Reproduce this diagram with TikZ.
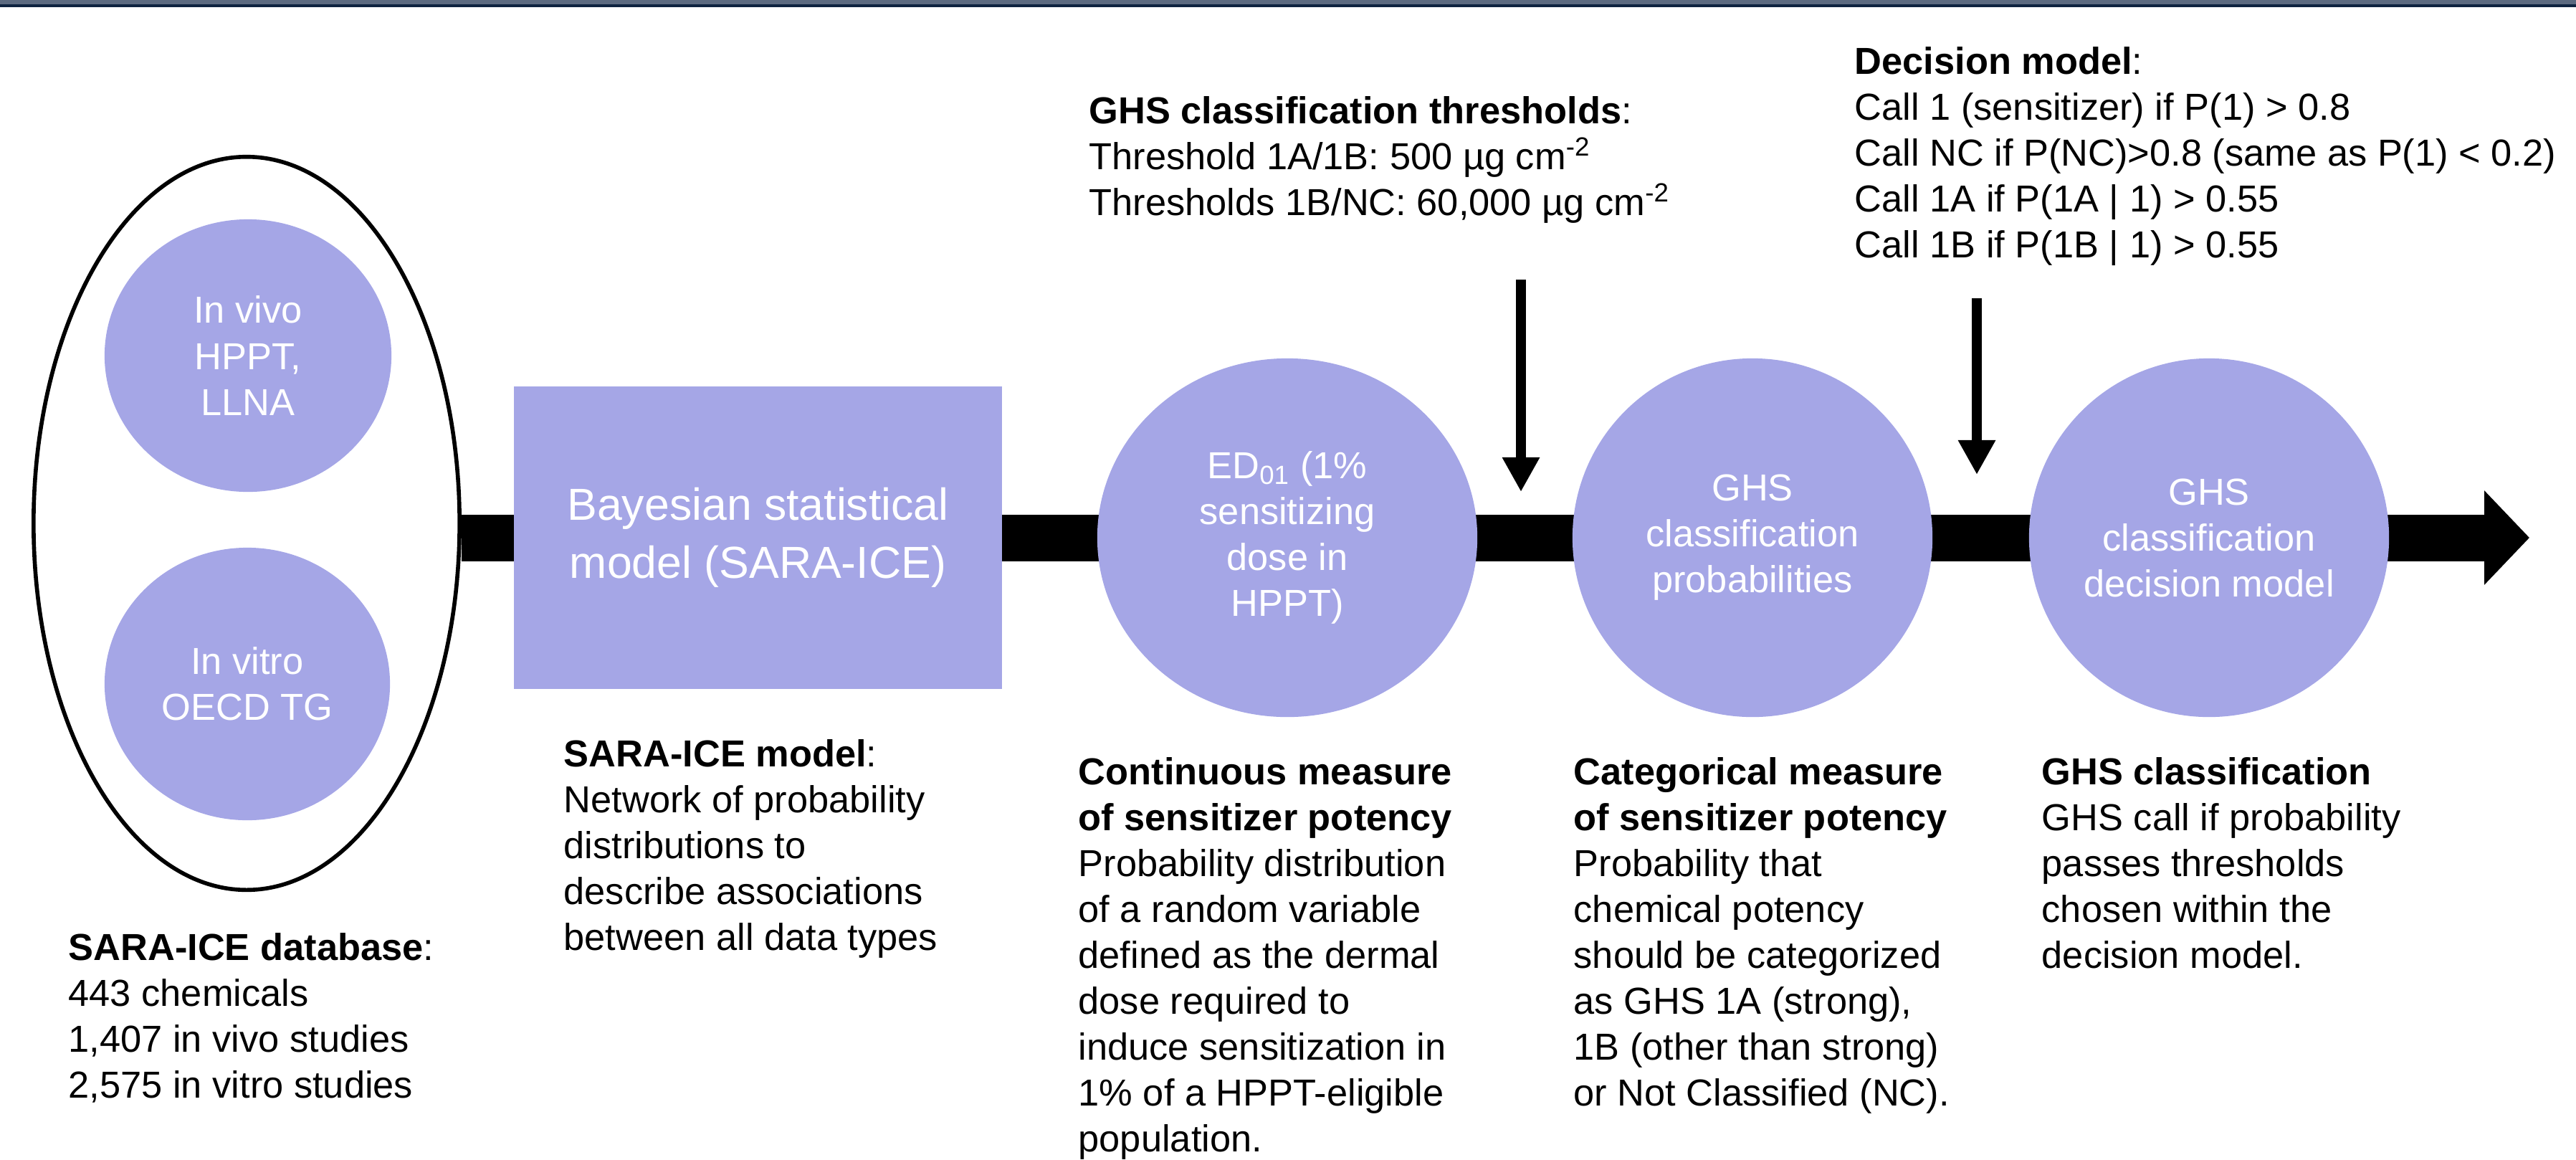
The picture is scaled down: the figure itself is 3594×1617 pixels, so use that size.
\documentclass[tikz,border=0pt]{standalone}
\usepackage{fontspec}
\setmainfont{Liberation Sans}
\usetikzlibrary{shapes.geometric,arrows.meta,backgrounds}
\definecolor{blobfill}{RGB}{165,166,230}
\definecolor{bandgray}{RGB}{92,106,128}
\definecolor{bandnavy}{RGB}{14,35,64}
\newcommand{\slidefont}{\fontsize{14.9}{18.2}\selectfont}
\newcommand{\bigslidefont}{\fontsize{17.8}{23}\selectfont}

\begin{document}
\begin{tikzpicture}[x=0.01cm, y=-0.01cm,
    blob/.style={ellipse, fill=blobfill, inner sep=0pt, outer sep=0pt, text=white, align=center, font=\slidefont},
    txt/.style={anchor=base west, align=left, inner sep=0pt, font=\slidefont},
    bar/.style={line width=0.65cm, -{Triangle[length=0.63cm, width=1.28cm]}},
    feed/.style={line width=0.14cm, -{Triangle[length=0.48cm, width=0.49cm]}}]
      \useasboundingbox (0,0) rectangle (3594,1617);
      % header band
      \fill[bandgray] (0,0) rectangle (3594,6);
      \fill[bandnavy] (0,6) rectangle (3594,10);
      % data sources
      \node (db) at (344,730) [ellipse, draw, line width=1.6pt, minimum width=5.94cm, minimum height=10.22cm] {};
      \node (vivo) at (346,496) [blob, minimum width=4cm, minimum height=3.8cm] {In vivo\\HPPT,\\LLNA};
      \node (vitro) at (345,954) [blob, minimum width=3.98cm, minimum height=3.8cm] {In vitro\\OECD TG};
      % pipeline
      \node (bayes) at (1057.5,750) [rectangle, fill=blobfill, inner sep=0pt, text=white, align=center, font=\bigslidefont, minimum width=6.81cm, minimum height=4.22cm] {Bayesian statistical\\model (SARA-ICE)};
      \node (ed) at (1796,750) [blob, minimum width=5.3cm, minimum height=5cm] {ED\textsubscript{01} (1\%\\sensitizing\\dose in\\HPPT)};
      \node (prob) at (2445,750) [blob, minimum width=5.02cm, minimum height=5cm] {GHS\\classification\\probabilities};
      \node (dec) at (3082,750) [blob, minimum width=5.02cm, minimum height=5cm] {GHS\\classification\\decision model};
      \coordinate (tip) at (3529,750);
      \begin{scope}[on background layer]
        \draw[bar] (db.east |- ed.center) -- (bayes.center) -- (ed.center) -- (prob.center) -- (dec.center) -- (tip);
      \end{scope}
      % inputs from above
      \coordinate (thrtop) at (2122,390);
      \coordinate (thrend) at (2122,686);
      \coordinate (rulestop) at (2758,416);
      \coordinate (rulesend) at (2758,662);
      \draw[feed] (thrtop) -- (thrend);
      \draw[feed] (rulestop) -- (rulesend);
      % text blocks sit on the baseline of their last line
      \node (thr) at (1519,300) [txt] {\textbf{GHS classification thresholds}:\\Threshold 1A/1B: 500 µg cm\textsuperscript{-2}\\Thresholds 1B/NC: 60,000 µg cm\textsuperscript{-2}};
      \node (rules) at (2587,359) [txt] {\textbf{Decision model}:\\Call 1 (sensitizer) if P(1) > 0.8\\Call NC if P(NC)>0.8 (same as P(1) < 0.2)\\Call 1A if P(1A | 1) > 0.55\\Call 1B if P(1B | 1) > 0.55};
      % captions
      \node (dbtxt) at (95,1531) [txt] {\textbf{SARA-ICE database}:\\443 chemicals\\1,407 in vivo studies\\2,575 in vitro studies};
      \node (bayestxt) at (786,1325) [txt] {\textbf{SARA-ICE model}:\\Network of probability\\distributions to\\describe associations\\between all data types};
      \node (edtxt) at (1504,1606) [txt] {\textbf{Continuous measure}\\\textbf{of sensitizer potency}\\Probability distribution\\of a random variable\\defined as the dermal\\dose required to\\induce sensitization in\\1\% of a HPPT-eligible\\population.};
      \node (probtxt) at (2195,1542) [txt] {\textbf{Categorical measure}\\\textbf{of sensitizer potency}\\Probability that\\chemical potency\\should be categorized\\as GHS 1A (strong),\\1B (other than strong)\\or Not Classified (NC).};
      \node (dectxt) at (2848,1350) [txt] {\textbf{GHS classification}\\GHS call if probability\\passes thresholds\\chosen within the\\decision model.};
\end{tikzpicture}
\end{document}
